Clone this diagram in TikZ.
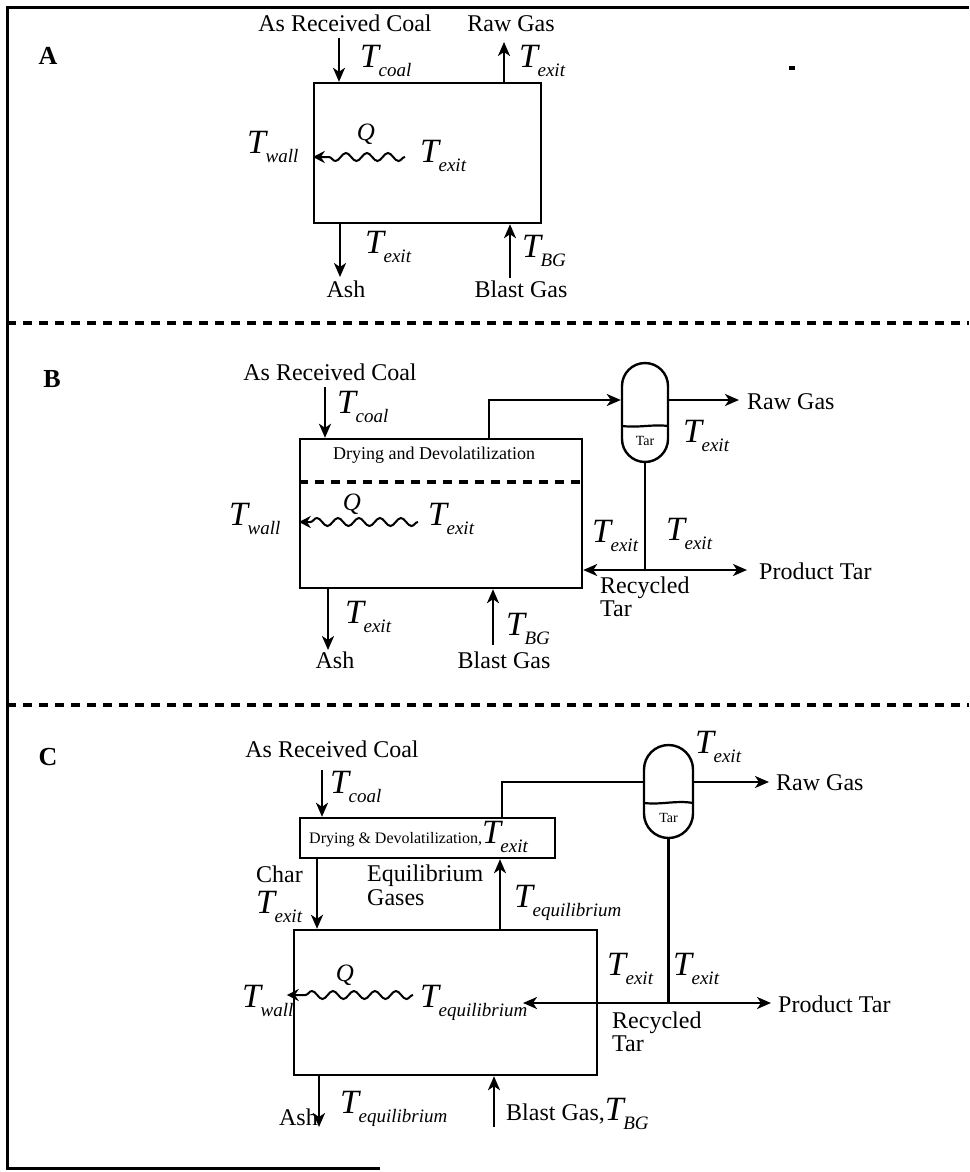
\documentclass[tikz,border=0pt]{standalone}
\usepackage{fontspec}
\setmainfont{Liberation Serif}
\usetikzlibrary{arrows.meta,decorations.pathmorphing}
\newcommand\Tsub[1]{{\fontsize{34}{34}\selectfont\itshape T}\kern-0.5pt{\fontsize{19}{19}\selectfont\itshape\raisebox{-9pt}{#1}}}
\begin{document}
\begin{tikzpicture}[x=1pt,y=-1pt,
  txt/.style={inner sep=0pt, font=\fontsize{24}{26}\selectfont},
  tl/.style={inner sep=0pt, anchor=base west},
  panel/.style={inner sep=0pt, anchor=base, font=\fontsize{26}{28}\selectfont\bfseries},
  qlab/.style={inner sep=0pt, anchor=base, font=\fontsize{25}{26}\selectfont\itshape},
  tarlab/.style={inner sep=0pt, font=\fontsize{14}{14}\selectfont},
  box/.style={draw, line width=2.4pt, inner sep=0pt},
  sep/.style={draw, line width=2.4pt, inner sep=0pt},
  ln/.style={line width=2.2pt},
  arr/.style={line width=2.2pt, -{Stealth[length=14pt,width=12pt,inset=4pt]}},
  wave/.style={line width=2pt, decorate, decoration={snake, segment length=21pt, amplitude=4pt, post length=10pt}, -{Stealth[length=12pt,width=12pt,inset=4pt]}},
  dline/.style={line width=3.5pt, dash pattern=on 9pt off 7pt},
  frame/.style={line width=3pt}
]
\useasboundingbox (0,0) rectangle (969,1172);
% frame
\coordinate (f1) at (7,8); \coordinate (f2) at (969,8);
\coordinate (f3) at (7,1168); \coordinate (f4) at (380,1168);
\draw[frame] (f2) -- (f1) -- (f3) -- (f4);
\coordinate (d1a) at (7,323); \coordinate (d1b) at (969,323);
\coordinate (d2a) at (7,705); \coordinate (d2b) at (969,705);
\draw[dline] (d1a) -- (d1b);
\draw[dline] (d2a) -- (d2b);
\fill (789,66) rectangle (795,70);

% ================= Panel A
\node[panel] (labA) at (48,65) {A};
\node[box, minimum width=227pt, minimum height=140pt] (boxA) at (427.5,153) {};
\node[txt, anchor=base] (coalA) at (345,32) {As Received Coal};
\node[txt, anchor=base] (rawA) at (511,32) {Raw Gas};
\coordinate (cA) at (339,38);
\draw[arr] (cA) -- (cA |- boxA.north);
\coordinate (rA) at (504,42);
\draw[arr] (rA |- boxA.north) -- (rA);
\node[tl] (tcoalA) at (360,67) {\Tsub{coal}};
\node[tl] (texitA1) at (519,67) {\Tsub{exit}};
\coordinate (wA) at (405,157);
\draw[wave] (wA) -- (boxA.west |- wA);
\node[qlab] (qA) at (366,140) {Q};
\node[tl] (twallA) at (247,153) {\Tsub{wall}};
\node[tl] (texitA2) at (420,162) {\Tsub{exit}};
\coordinate (aA) at (340,277);
\draw[arr] (aA |- boxA.south) -- (aA);
\node[tl] (texitA3) at (365,253) {\Tsub{exit}};
\node[txt, anchor=base] (ashA) at (346,297) {Ash};
\coordinate (bA) at (510,278);
\draw[arr] (bA) -- (bA |- boxA.south);
\node[tl] (tbgA) at (522,257) {\Tsub{BG}};
\node[txt, anchor=base] (blastA) at (521,297) {Blast Gas};

% ================= Panel B
\node[panel] (labB) at (52,387) {B};
\node[box, minimum width=282pt, minimum height=149pt] (boxB) at (441,513.5) {};
\node[txt, anchor=base] (coalB) at (330,380) {As Received Coal};
\coordinate (cB) at (325,387);
\draw[arr] (cB) -- (cB |- boxB.north);
\node[tl] (tcoalB) at (337,413) {\Tsub{coal}};
\node[inner sep=0pt, anchor=base, font=\fontsize{18}{18}\selectfont] (dryB) at (434,459) {Drying and Devolatilization};
\coordinate (dlB) at (441,482);
\draw[dline] (boxB.west |- dlB) -- (boxB.east |- dlB);
\coordinate (wB) at (418,522);
\draw[wave] (wB) -- (boxB.west |- wB);
\node[qlab] (qB) at (352,510) {Q};
\node[tl] (twallB) at (229,525) {\Tsub{wall}};
\node[tl] (texitB1) at (428,525) {\Tsub{exit}};
\node[sep, minimum width=46pt, minimum height=99pt, rounded corners=23pt] (sepB) at (645,412.5) {};
\coordinate (lqB1) at (622,426); \coordinate (lqB2) at (668,426);
\draw[ln] (lqB1) .. controls (640,428) and (652,424) .. (lqB2);
\node[tarlab] (tarB) at (645,441) {Tar};
\coordinate (pB) at (489,400);
\draw[arr] (pB |- boxB.north) -- (pB) -- (sepB.west |- pB);
\node[txt, anchor=west] (rawB) at (747,402) {Raw Gas};
\draw[arr, shorten >=8pt] (sepB.east |- pB) -- (rawB.west |- pB);
\node[tl] (texitB2) at (683,442) {\Tsub{exit}};
\coordinate (jB) at (645,570);
\draw[ln] (sepB.south) -- (jB);
\draw[arr] (jB) -- (boxB.east |- jB);
\node[txt, anchor=west] (prodB) at (759,571) {Product Tar};
\draw[arr, shorten >=12pt] (jB) -- (prodB.west |- jB);
\node[tl] (texitB3) at (592,542) {\Tsub{exit}};
\node[tl] (texitB4) at (666,540) {\Tsub{exit}};
\node[txt, anchor=north west, align=left, font=\fontsize{24}{23}\selectfont] (recB) at (600,577) {Recycled\\Tar};
\coordinate (aB) at (328,650);
\draw[arr] (aB |- boxB.south) -- (aB);
\node[tl] (texitB5) at (345,623) {\Tsub{exit}};
\node[txt, anchor=base] (ashB) at (335,668) {Ash};
\coordinate (bB) at (493,645);
\draw[arr] (bB) -- (bB |- boxB.south);
\node[tl] (tbgB) at (506,635) {\Tsub{BG}};
\node[txt, anchor=base] (blastB) at (504,668) {Blast Gas};

% ================= Panel C
\node[panel] (labC) at (48,765) {C};
\node[txt, anchor=base] (coalC) at (332,757) {As Received Coal};
\node[box, minimum width=255pt, minimum height=40pt] (boxCs) at (427.5,838) {};
\node[box, minimum width=303pt, minimum height=145pt] (boxC) at (445.5,1002.5) {};
\coordinate (cC) at (322,770);
\draw[arr] (cC) -- (cC |- boxCs.north);
\node[tl] (tcoalC) at (330,793) {\Tsub{coal}};
\node[tl, font=\fontsize{16}{16}\selectfont] (dryC) at (309,843) {Drying \& Devolatilization,\Tsub{exit}};
\node[sep, minimum width=49pt, minimum height=93pt, rounded corners=24.5pt] (sepC) at (668.5,791.5) {};
\coordinate (lqC1) at (644,803); \coordinate (lqC2) at (693,803);
\draw[ln] (lqC1) .. controls (662,805) and (676,800) .. (lqC2);
\node[tarlab] (tarC) at (668.5,818) {Tar};
\coordinate (pC) at (502,782);
\draw[ln] (pC |- boxCs.north) -- (pC) -- (sepC.west |- pC);
\node[tl] (texitC1) at (695,753) {\Tsub{exit}};
\node[txt, anchor=west] (rawC) at (776,783) {Raw Gas};
\draw[arr, shorten >=7pt] (sepC.east |- pC) -- (rawC.west |- pC);
\node[txt, anchor=base west] (charC) at (256,882) {Char};
\node[tl] (texitC2) at (256,913) {\Tsub{exit}};
\coordinate (chC) at (317,900);
\draw[arr] (chC |- boxCs.south) -- (chC |- boxC.north);
\node[txt, anchor=north west, align=left, font=\fontsize{24}{24}\selectfont] (eqgC) at (367,865) {Equilibrium\\Gases};
\coordinate (eqC) at (500,900);
\draw[arr] (eqC |- boxC.north) -- (eqC |- boxCs.south);
\node[tl] (teqC1) at (514,907) {\Tsub{equilibrium}};
\coordinate (wC) at (413,995);
\draw[wave, shorten >=-6pt] (wC) -- (boxC.west |- wC);
\node[qlab] (qC) at (345,981) {Q};
\node[tl] (twallC) at (242,1007) {\Tsub{wall}};
\node[tl] (teqC2) at (420,1007) {\Tsub{equilibrium}};
\coordinate (jC) at (668.5,1003);
\coordinate (rcC) at (523,1003);
\draw[ln] (sepC.south) -- (jC);
\draw[arr] (jC) -- (rcC);
\node[txt, anchor=west] (prodC) at (778,1004) {Product Tar};
\draw[arr, shorten >=7pt] (jC) -- (prodC.west |- jC);
\node[tl] (texitC3) at (607,975) {\Tsub{exit}};
\node[tl] (texitC4) at (673,975) {\Tsub{exit}};
\node[txt, anchor=north west, align=left, font=\fontsize{24}{23}\selectfont] (recC) at (612,1012) {Recycled\\Tar};
\coordinate (aC) at (319,1127);
\draw[arr] (aC |- boxC.south) -- (aC);
\node[txt, anchor=base east] (ashC) at (318,1125) {Ash};
\node[tl] (teqC3) at (340,1113) {\Tsub{equilibrium}};
\coordinate (bC) at (494,1127);
\draw[arr] (bC) -- (bC |- boxC.south);
\node[tl, font=\fontsize{24}{26}\selectfont] (blastC) at (506,1120) {Blast Gas,\Tsub{BG}};
\end{tikzpicture}
\end{document}
